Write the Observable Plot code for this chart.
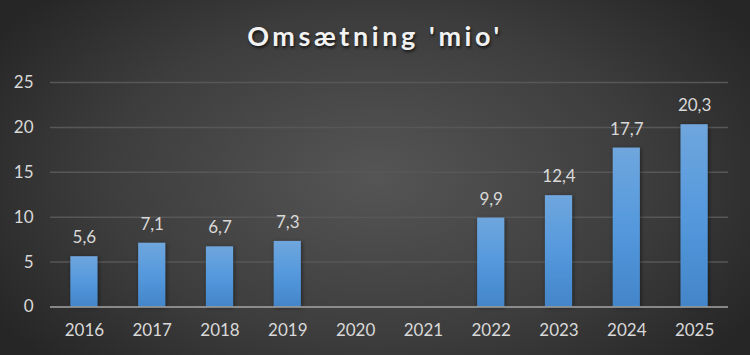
<!DOCTYPE html>
<html>
<head>
<meta charset="utf-8">
<script src="https://cdn.jsdelivr.net/npm/d3@7"></script>
<script src="https://cdn.jsdelivr.net/npm/@observablehq/plot@0.6"></script>
<style>
  html, body { margin: 0; padding: 0; }
  #wrap {
    width: 750px; height: 355px; position: relative; overflow: hidden;
    background: radial-gradient(ellipse 60% 75% at 50% 50%, #555555 0%, #3d3d3d 60%, #262626 100%);
    font-family: Lato, "Open Sans", sans-serif;
  }
  #title {
    position: absolute; left: 0; top: 0; width: 750px; height: 60px;
    text-align: center; line-height: 72px; color: #f2f2f2;
    font-weight: bold; font-size: 27px; letter-spacing: 3.6px;
    text-shadow: 1px 2px 3px rgba(0,0,0,0.7);
  }
  #chart { position: absolute; left: 0; top: 60px; }
</style>
</head>
<body>
<div id="wrap">
  <div id="title">Omsætning 'mio'</div>
  <div id="chart"></div>
</div>
<script>
const years = ["2016","2017","2018","2019","2020","2021","2022","2023","2024","2025"];
const revenue = [5.6, 7.1, 6.7, 7.3, null, null, 9.9, 12.4, 17.7, 20.3];
const yTicks = [0, 5, 10, 15, 20, 25];

const data = years.map((y, i) => ({year: y, value: revenue[i]}));
const withValue = data.filter(d => d.value != null);
const fmt = v => v.toFixed(1).replace(".", ",");

const chart = Plot.plot({
  width: 750,
  height: 295,
  marginTop: 22,
  marginBottom: 48.5,
  marginLeft: 50,
  marginRight: 22,
  style: {background: "transparent", color: "#d9d9d9", fontFamily: "Lato, 'Open Sans', sans-serif", fontSize: "17px"},
  x: {domain: years, paddingInner: 0.6, paddingOuter: 0.3, round: false, label: null, tickSize: 0, tickPadding: 17},
  y: {domain: [0, 25], ticks: yTicks, label: null, tickSize: 0, tickPadding: 17},
  marks: [
    Plot.gridY(yTicks.filter(t => t > 0), {stroke: "#575757", strokeOpacity: 1, strokeWidth: 1.5}),
    Plot.barY(withValue, {x: "year", y: "value", fill: "url(#barGrad)"}),
    Plot.ruleY([0], {stroke: "#a6a6a6", strokeWidth: 1.6}),
    Plot.text(withValue, {x: "year", y: "value", text: d => fmt(d.value), dy: -19, fill: "#d9d9d9", fontSize: 17})
  ]
});

const ns = "http://www.w3.org/2000/svg";
const defs = document.createElementNS(ns, "defs");
defs.innerHTML = `
  <linearGradient id="barGrad" x1="0" y1="0" x2="0" y2="1">
    <stop offset="0%" stop-color="#6fa6dd"/>
    <stop offset="50%" stop-color="#5599dd"/>
    <stop offset="100%" stop-color="#4385c9"/>
  </linearGradient>
  <filter id="shadow" x="-30%" y="-10%" width="160%" height="120%">
    <feDropShadow dx="1" dy="1" stdDeviation="2" flood-color="#000" flood-opacity="0.5"/>
  </filter>`;
chart.insertBefore(defs, chart.firstChild);
chart.querySelectorAll("rect").forEach(r => r.setAttribute("filter", "url(#shadow)"));
document.getElementById("chart").appendChild(chart);
</script>
</body>
</html>
